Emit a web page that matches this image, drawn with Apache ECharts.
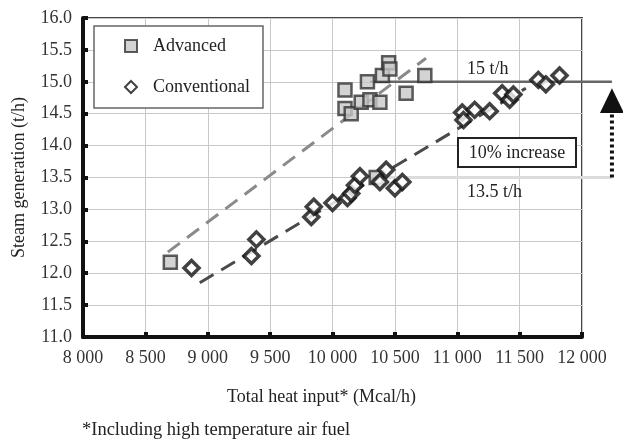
<!DOCTYPE html>
<html>
<head>
<meta charset="utf-8">
<script src="https://cdn.jsdelivr.net/npm/echarts@6/dist/echarts.min.js"></script>
<style>
html,body{margin:0;padding:0;background:#fff;}
#chart{width:623px;height:439px;}
</style>
</head>
<body>
<div id="chart"></div>
<script>
// ---- data ----
const xTicks = [8000, 8500, 9000, 9500, 10000, 10500, 11000, 11500, 12000];
const yTicks = [11.0, 11.5, 12.0, 12.5, 13.0, 13.5, 14.0, 14.5, 15.0, 15.5, 16.0];
const advancedX = [8700, 10100, 10100, 10150, 10230, 10300, 10280, 10380, 10400, 10450, 10460, 10590, 10740, 10350];
const advancedY = [12.17, 14.87, 14.58, 14.50, 14.68, 14.72, 15.00, 14.68, 15.10, 15.30, 15.20, 14.82, 15.10, 13.50];
const conventionalX = [8870, 9350, 9390, 9830, 9850, 10000, 10120, 10150, 10180, 10220, 10380, 10430, 10500, 10560, 11040, 11050, 11140, 11260, 11360, 11420, 11450, 11650, 11710, 11820];
const conventionalY = [12.08, 12.27, 12.53, 12.88, 13.04, 13.10, 13.18, 13.25, 13.38, 13.52, 13.43, 13.62, 13.33, 13.43, 14.52, 14.40, 14.56, 14.54, 14.82, 14.72, 14.80, 15.03, 14.96, 15.10];
const advancedTrendX = [8680, 10750];
const advancedTrendY = [12.33, 15.37];
const conventionalTrendX = [8936, 11550];
const conventionalTrendY = [11.85, 14.90];
const level15X = [10300, 12240];
const level15Y = [15.0, 15.0];
const level135X = [10400, 12240];
const level135Y = [13.5, 13.5];
const arrowX = [12240, 12240];
const arrowY = [13.5, 14.51, 14.90]; // shaft start, arrow-head base, arrow-head tip

const zip = (xs, ys) => xs.map((x, i) => [x, ys[i]]);
const FONT = 'Liberation Serif';

const chart = echarts.init(document.getElementById('chart'));
chart.setOption({
  animation: false,
  backgroundColor: '#fff',
  textStyle: { fontFamily: FONT },
  grid: { left: 83, top: 18, right: 41, bottom: 102, show: true, borderColor: '#444', borderWidth: 2, backgroundColor: 'transparent' },
  legend: {
    left: 94, top: 26, orient: 'vertical',
    backgroundColor: '#fff', borderColor: '#666', borderWidth: 1.5,
    padding: [11, 13, 12, 30], itemGap: 23, itemWidth: 12, itemHeight: 12,
    textStyle: { fontFamily: FONT, fontSize: 18, color: '#222', lineHeight: 16, padding: [0, 0, 0, 11] },
    data: ['Advanced', 'Conventional']
  },
  xAxis: {
    type: 'value', min: xTicks[0], max: xTicks[xTicks.length - 1], interval: 500,
    name: 'Total heat input* (Mcal/h)', nameLocation: 'middle', nameGap: 51,
    nameTextStyle: { fontFamily: FONT, fontSize: 18, color: '#222', padding: [0, 22, 0, 0] },
    axisLine: { lineStyle: { color: '#111', width: 4 } },
    axisTick: { inside: true, length: 5, lineStyle: { color: '#111', width: 4 } },
    axisLabel: { fontFamily: FONT, fontSize: 18, color: '#333', margin: 12,
      formatter: v => String(v).replace(/(\d)(?=(\d{3})+$)/, '$1 ') },
    splitLine: { lineStyle: { color: '#c8c8c8', width: 1 } }
  },
  yAxis: {
    type: 'value', min: yTicks[0], max: yTicks[yTicks.length - 1], interval: 0.5,
    name: 'Steam generation (t/h)', nameLocation: 'middle', nameGap: 55,
    nameTextStyle: { fontFamily: FONT, fontSize: 18, color: '#222' },
    axisLine: { lineStyle: { color: '#111', width: 4 } },
    axisTick: { inside: true, length: 5, lineStyle: { color: '#111', width: 4 } },
    axisLabel: { fontFamily: FONT, fontSize: 18, color: '#333', margin: 11, formatter: v => v.toFixed(1) },
    splitLine: { lineStyle: { color: '#c8c8c8', width: 1 } }
  },
  series: [
    { name: 'AdvTrend', type: 'line', data: zip(advancedTrendX, advancedTrendY), symbol: 'none', z: 2,
      lineStyle: { color: '#8a8a8a', width: 3, type: [15, 9] } },
    { name: 'ConvTrend', type: 'line', data: zip(conventionalTrendX, conventionalTrendY), symbol: 'none', z: 2,
      lineStyle: { color: '#4a4a4a', width: 3, type: [16, 9] } },
    { name: 'Advanced', type: 'scatter', data: zip(advancedX, advancedY), symbol: 'rect', symbolSize: 13, z: 4,
      itemStyle: { color: '#c8c8c8', borderColor: '#333', borderWidth: 2.5 } },
    { name: 'Conventional', type: 'scatter', data: zip(conventionalX, conventionalY), symbol: 'diamond', symbolSize: 15, z: 5,
      itemStyle: { color: '#fff', borderColor: '#111', borderWidth: 3.5 } }
  ]
});

// Reference lines and arrow, which run past the plot's right border
const px = (x, y) => chart.convertToPixel({ gridIndex: 0 }, [x, y]);
const a15 = px(level15X[0], level15Y[0]), b15 = px(level15X[1], level15Y[1]);
const a135 = px(level135X[0], level135Y[0]), b135 = px(level135X[1], level135Y[1]);
const s0 = px(arrowX[0], arrowY[0]), s1 = px(arrowX[1], arrowY[1]), tip = px(arrowX[1], arrowY[2]);
const T = '18px "Liberation Serif"';
chart.setOption({
  graphic: [
    { type: 'line', z: 1, shape: { x1: a135[0], y1: a135[1], x2: b135[0], y2: b135[1] }, style: { stroke: '#dcdcdc', lineWidth: 3 } },
    { type: 'line', z: 3, shape: { x1: a15[0], y1: a15[1], x2: b15[0], y2: b15[1] }, style: { stroke: '#666', lineWidth: 2.5 } },
    { type: 'line', z: 6, shape: { x1: s0[0], y1: s0[1], x2: s1[0], y2: s1[1] }, style: { stroke: '#111', lineWidth: 4, lineDash: [3, 3] } },
    { type: 'polygon', z: 6, shape: { points: [[tip[0], tip[1]], [s1[0] - 12, s1[1]], [s1[0] + 12, s1[1]]] }, style: { fill: '#111' } },
    { type: 'text', z: 7, left: 467, top: 60, style: { text: '15 t/h', font: T, fill: '#222' } },
    { type: 'group', z: 7, left: 457, top: 137, children: [
      { type: 'rect', shape: { x: 0, y: 0, width: 118, height: 29 }, style: { fill: '#fff', stroke: '#222', lineWidth: 2 } },
      { type: 'text', x: 59, y: 15, style: { text: '10% increase', font: T, fill: '#222', align: 'center', verticalAlign: 'middle' } }
    ] },
    { type: 'text', z: 7, left: 467, top: 183, style: { text: '13.5 t/h', font: T, fill: '#222' } },
    { type: 'text', z: 7, left: 82, top: 421, style: { text: '*Including high temperature air fuel', font: '18.5px "Liberation Serif"', fill: '#222' } }
  ]
});
</script>
</body>
</html>
